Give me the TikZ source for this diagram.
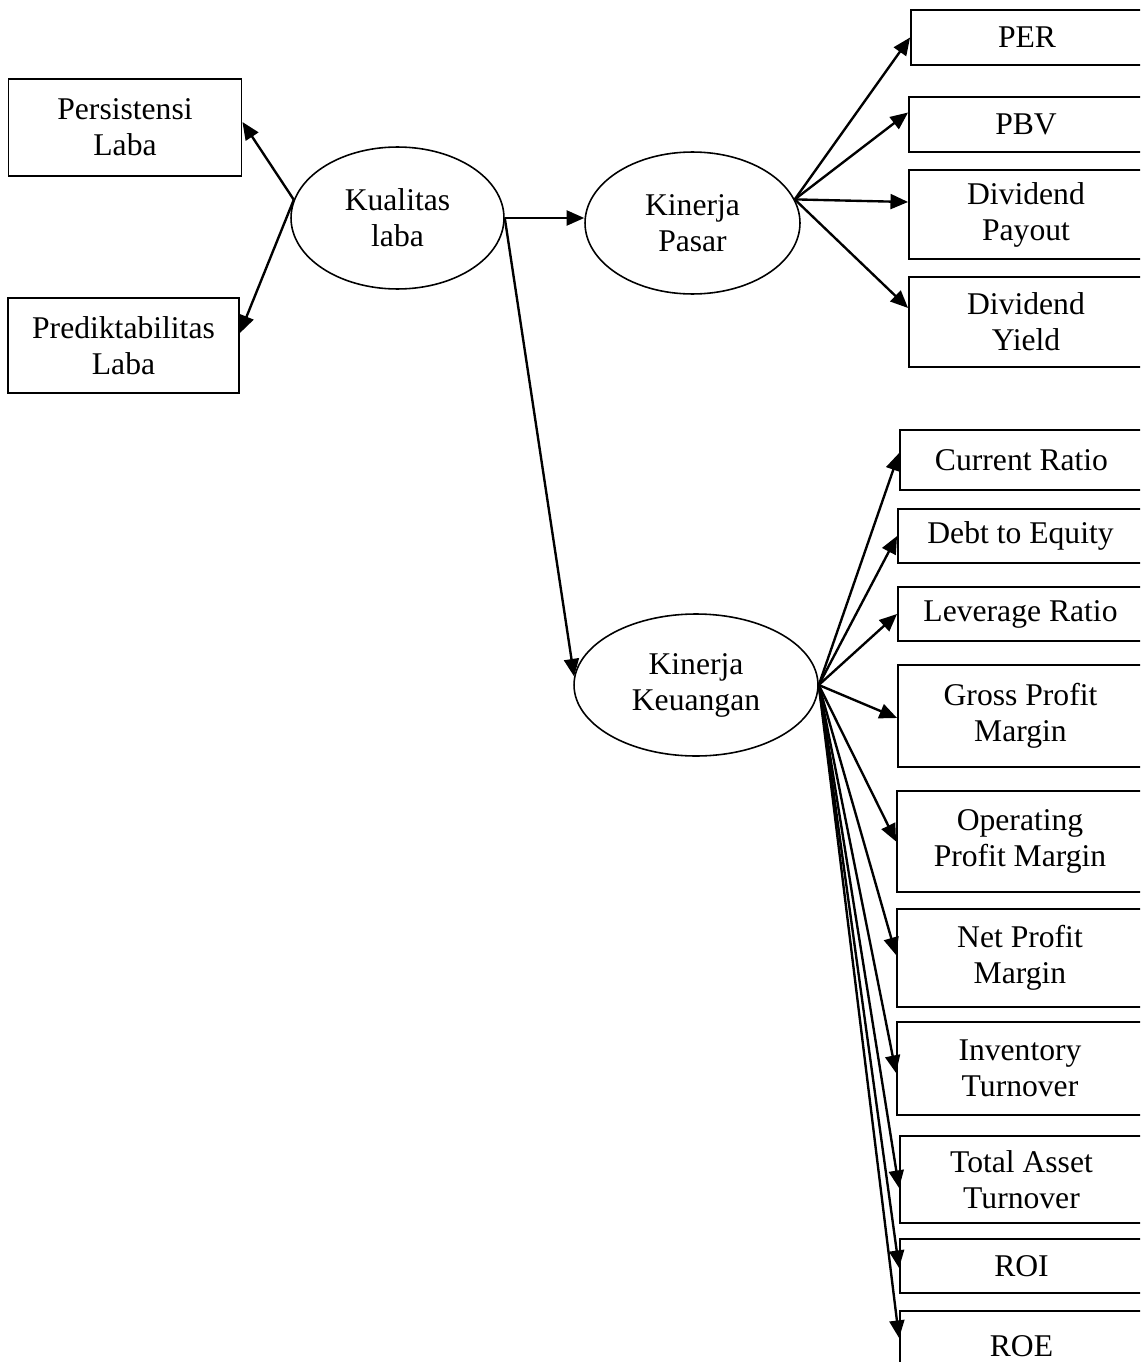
\documentclass[tikz,border=0pt]{standalone}
\usepackage{fontspec}
\setmainfont{Liberation Serif}
\usetikzlibrary{arrows.meta,shapes.geometric}

\begin{document}
\begin{tikzpicture}[x=0.02cm,y=-0.02cm,->,>={Triangle[length=10pt,width=8.5pt]},line width=1.35pt,
    font=\fontsize{18}{20.5}\selectfont]

    \tikzstyle{box}=[draw,rectangle,line width=1.1pt,align=center,inner sep=0pt]
    \tikzstyle{latent}=[draw,ellipse,line width=0.9pt,align=center,inner sep=0pt]

    \useasboundingbox (0,0) rectangle (1140,1362);
    \clip (0,0) rectangle (1140,1362);

    % left side
    \node[box, minimum width=4.66cm, minimum height=1.94cm] (pers) at (125,127.5) {Persistensi\\Laba};
    \node[box, minimum width=4.62cm, minimum height=1.90cm] (pred) at (123.5,345.5) {Prediktabilitas\\Laba};

    % latent variables
    \node[latent, minimum width=4.26cm, minimum height=2.84cm] (kl) at (397.5,218) {Kualitas\\laba};
    \node[latent, minimum width=4.30cm, minimum height=2.84cm] (kp) at (692.5,223) {Kinerja\\Pasar};
    \node[latent, minimum width=4.88cm, minimum height=2.84cm] (kk) at (696,685) {Kinerja\\Keuangan};

    % market indicators
    \node[box, minimum width=4.64cm, minimum height=1.10cm] (per) at (1027,37.5) {PER};
    \node[box, minimum width=4.68cm, minimum height=1.10cm] (pbv) at (1026,124.5) {PBV};
    \node[box, minimum width=4.68cm, minimum height=1.78cm] (dpo) at (1026,214.5) {Dividend\\Payout};
    \node[box, minimum width=4.68cm, minimum height=1.80cm] (dy)  at (1026,322) {Dividend\\Yield};

    % financial indicators
    \node[box, minimum width=4.86cm, minimum height=1.20cm] (cr)  at (1021.5,460) {Current Ratio};
    \node[box, minimum width=4.90cm, minimum height=1.08cm] (de)  at (1020.5,536) {Debt to Equity};
    \node[box, minimum width=4.90cm, minimum height=1.08cm] (lr)  at (1020.5,614) {Leverage Ratio};
    \node[box, minimum width=4.90cm, minimum height=2.04cm] (gpm) at (1020.5,716) {Gross Profit\\Margin};
    \node[box, minimum width=4.92cm, minimum height=2.02cm] (opm) at (1020,841.5) {Operating\\Profit Margin};
    \node[box, minimum width=4.92cm, minimum height=1.96cm] (npm) at (1020,958) {Net Profit\\Margin};
    \node[box, minimum width=4.92cm, minimum height=1.86cm] (it)  at (1020,1068.5) {Inventory\\Turnover};
    \node[box, minimum width=4.86cm, minimum height=1.74cm] (tat) at (1021.5,1179.5) {Total Asset\\Turnover};
    \node[box, minimum width=4.86cm, minimum height=1.08cm] (roi) at (1021.5,1266) {ROI};
    \node[box, minimum width=4.86cm, minimum height=1.40cm] (roe) at (1021.5,1346) {ROE};

    \path (kl.170) edge ([yshift=0.11cm]pers.east)
          (kl.170) edge ([yshift=0.25cm]pred.east)
          (kl.east) edge (kp.west |- kl.east)
          (kl.east) edge (kk.176)

          (kp.13) edge (per.west)
          (kp.13) edge ([yshift=0.24cm]pbv.west)
          (kp.13) edge ([yshift=0.25cm]dpo.west)
          (kp.13) edge ([yshift=0.28cm]dy.west)

          (kk.east) edge ([yshift=0.14cm]cr.west)
          (kk.east) edge (de.west)
          (kk.east) edge (lr.west)
          (kk.east) edge ([yshift=-0.04cm]gpm.west)
          (kk.east) edge (opm.west)
          (kk.east) edge ([yshift=0.06cm]npm.west)
          (kk.east) edge ([yshift=-0.09cm]it.west)
          (kk.east) edge ([yshift=-0.17cm]tat.west)
          (kk.east) edge ([yshift=-0.04cm]roi.west)
          (kk.east) edge ([yshift=0.16cm]roe.west)
    ;
\end{tikzpicture}
\end{document}
